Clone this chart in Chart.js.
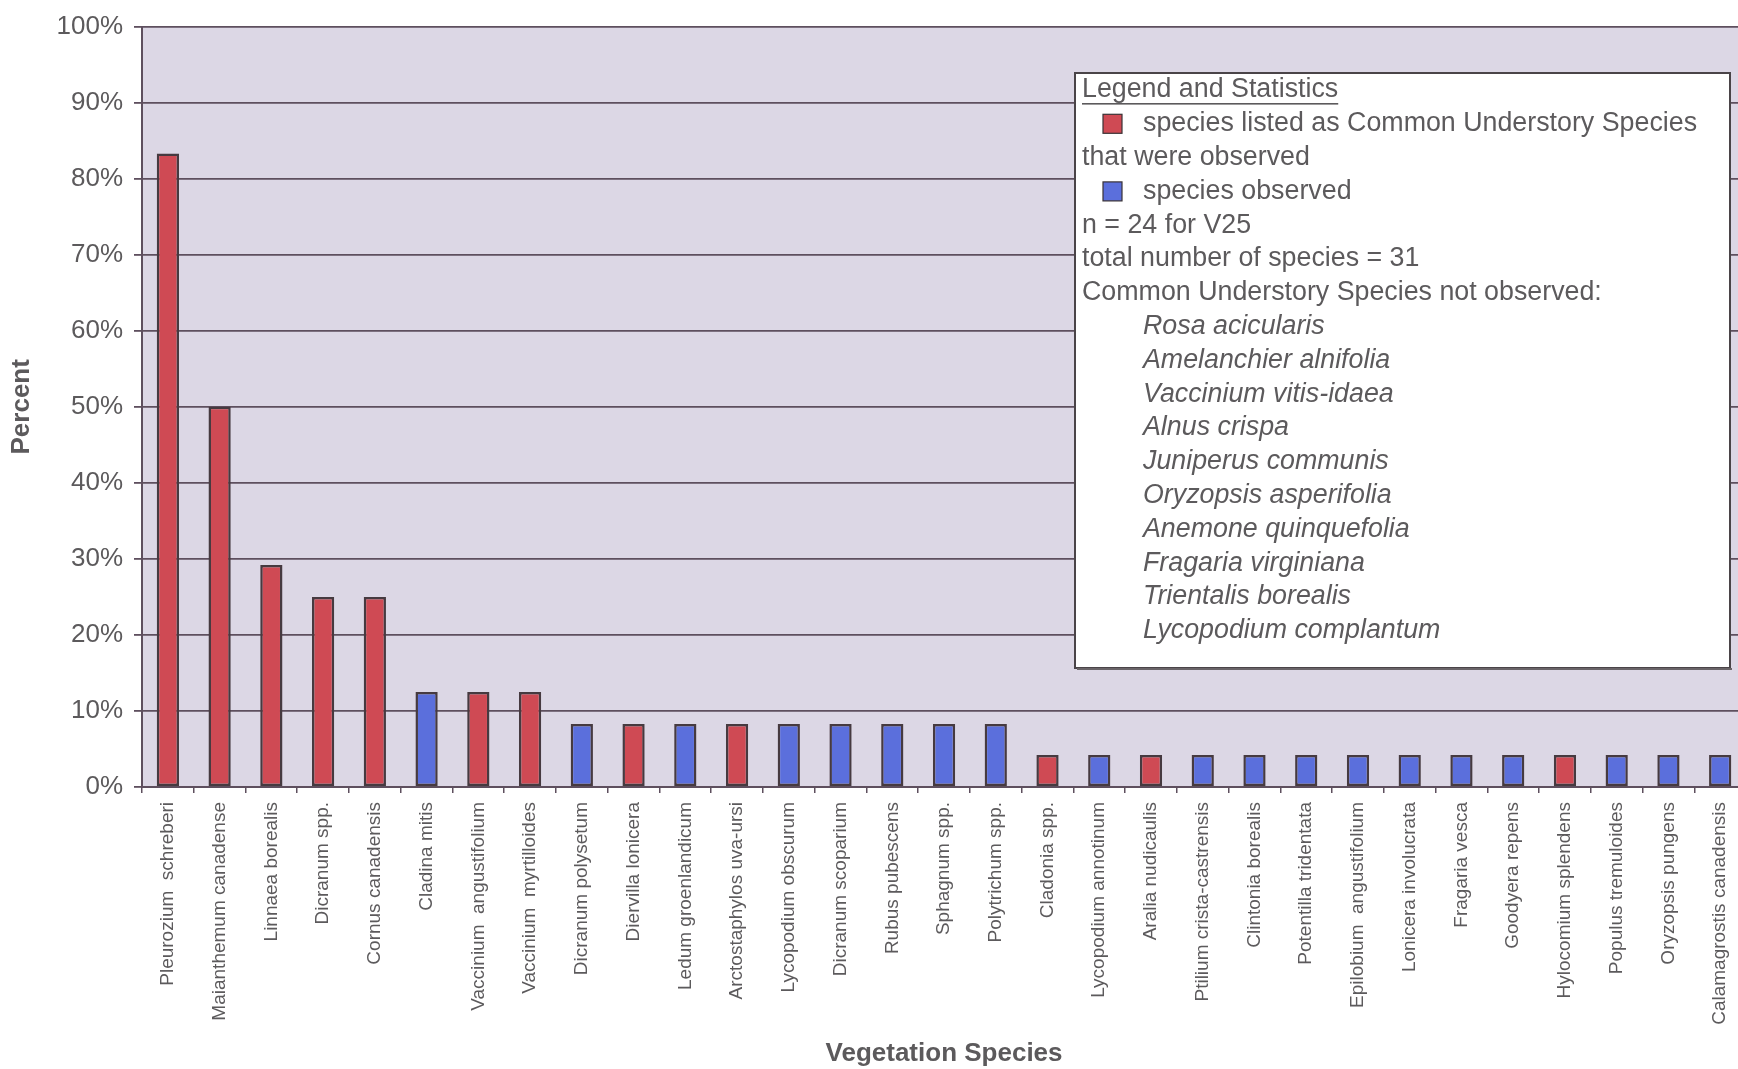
<!DOCTYPE html>
<html>
<head>
<meta charset="utf-8">
<script src="https://cdn.jsdelivr.net/npm/chart.js@4/dist/chart.umd.min.js"></script>
<style>
  html, body { margin: 0; padding: 0; overflow: hidden; background: #ffffff; }
  #wrap { width: 1752px; height: 1069px; position: relative; }
</style>
</head>
<body>
<div id="wrap"><canvas id="c" width="1752" height="1069"></canvas></div>
<script>
// ---- data ----
const species = [
  'Pleurozium  schreberi', 'Maianthemum canadense', 'Linnaea borealis', 'Dicranum spp.',
  'Cornus canadensis', 'Cladina mitis', 'Vaccinium  angustifolium', 'Vaccinium  myrtilloides',
  'Dicranum polysetum', 'Diervilla lonicera', 'Ledum groenlandicum', 'Arctostaphylos uva-ursi',
  'Lycopodium obscurum', 'Dicranum scoparium', 'Rubus pubescens', 'Sphagnum spp.',
  'Polytrichum spp.', 'Cladonia spp.', 'Lycopodium annotinum', 'Aralia nudicaulis',
  'Ptilium crista-castrensis', 'Clintonia borealis', 'Potentilla tridentata', 'Epilobium  angustifolium',
  'Lonicera involucrata', 'Fragaria vesca', 'Goodyera repens', 'Hylocomium splendens',
  'Populus tremuloides', 'Oryzopsis pungens', 'Calamagrostis canadensis'
];
const percent = [
  83.3, 50.0, 29.2, 25.0, 25.0, 12.5, 12.5, 12.5,
  8.3, 8.3, 8.3, 8.3, 8.3, 8.3, 8.3, 8.3, 8.3,
  4.2, 4.2, 4.2, 4.2, 4.2, 4.2, 4.2, 4.2, 4.2, 4.2, 4.2, 4.2, 4.2, 4.2
];
// 'C' = listed as Common Understory Species and observed, 'O' = species observed
const speciesType = [
  'C','C','C','C','C','O','C','C',
  'O','C','O','C','O','O','O','O','O',
  'C','O','C','O','O','O','O','O','O','O','C','O','O','O'
];
const yTicks = [0, 10, 20, 30, 40, 50, 60, 70, 80, 90, 100];
const legendTitle = 'Legend and Statistics';
const legendRedText = 'species listed as Common Understory Species';
const legendRedText2 = 'that were observed';
const legendBlueText = 'species observed';
const statsLines = ['n = 24 for V25', 'total number of species = 31', 'Common Understory Species not observed:'];
const notObserved = [
  'Rosa acicularis', 'Amelanchier alnifolia', 'Vaccinium vitis-idaea', 'Alnus crispa',
  'Juniperus communis', 'Oryzopsis asperifolia', 'Anemone quinquefolia', 'Fragaria virginiana',
  'Trientalis borealis', 'Lycopodium complantum'
];

// ---- styles ----
const RED = '#cf4a54';
const BLUE = '#5b6fdc';
const TEXT = '#5c5a5c';
const GRID = '#5e4f5e';
const PLOTBG = '#dcd7e5';
const FONT = "'Liberation Sans', Arial, sans-serif";

const bgPlugin = {
  id: 'bg',
  beforeDraw(chart) {
    const {ctx, chartArea: a} = chart;
    ctx.save();
    ctx.fillStyle = '#ffffff';
    ctx.fillRect(0, 0, chart.width, chart.height);
    ctx.fillStyle = PLOTBG;
    ctx.fillRect(a.left, a.top, a.right - a.left, a.bottom - a.top);
    ctx.restore();
  }
};

const legendPlugin = {
  id: 'statsLegend',
  afterDraw(chart) {
    const ctx = chart.ctx;
    const box = {l: 1075, t: 73, r: 1730, b: 668};
    ctx.save();
    ctx.fillStyle = '#ffffff';
    ctx.fillRect(box.l, box.t, box.r - box.l, box.b - box.t);
    ctx.strokeStyle = '#4a4448';
    ctx.lineWidth = 2;
    ctx.strokeRect(box.l, box.t, box.r - box.l, box.b - box.t);
    ctx.fillStyle = '#6a6468';
    ctx.fillRect(box.l + 2, box.b, box.r - box.l, 2);

    const x0 = 1082, x1 = 1143, y0 = 90, dy = 33.8;
    ctx.textBaseline = 'middle';
    ctx.textAlign = 'left';
    ctx.fillStyle = TEXT;
    ctx.font = '26.8px ' + FONT;
    let line = 0;
    // title, underlined
    ctx.fillText(legendTitle, x0, y0);
    const tw = ctx.measureText(legendTitle).width;
    ctx.fillRect(x0, y0 + 13, tw, 1.6);
    line++;
    const sq = 19;
    const drawSwatch = (y, color) => {
      ctx.fillStyle = color;
      ctx.fillRect(1103, y - sq / 2, sq, sq);
      ctx.strokeStyle = '#3a3236';
      ctx.lineWidth = 1.2;
      ctx.strokeRect(1103, y - sq / 2, sq, sq);
      ctx.fillStyle = TEXT;
    };
    let y = y0 + dy * line;
    drawSwatch(y, RED);
    ctx.fillText(legendRedText, x1, y);
    line++;
    ctx.fillText(legendRedText2, x0, y0 + dy * line);
    line++;
    y = y0 + dy * line;
    drawSwatch(y, BLUE);
    ctx.fillText(legendBlueText, x1, y);
    line++;
    statsLines.forEach(s => { ctx.fillText(s, x0, y0 + dy * line); line++; });
    ctx.font = 'italic 26.8px ' + FONT;
    notObserved.forEach(s => { ctx.fillText(s, x1, y0 + dy * line); line++; });
    ctx.restore();
  }
};

new Chart(document.getElementById('c'), {
  type: 'bar',
  data: {
    labels: species,
    datasets: [{
      data: percent,
      backgroundColor: speciesType.map(t => t === 'C' ? RED : BLUE),
      borderColor: '#463a40',
      borderWidth: 2.5,
      borderSkipped: false,
      barPercentage: 0.43,
      categoryPercentage: 1.0
    }]
  },
  options: {
    responsive: false,
    animation: false,
    devicePixelRatio: 1,
    layout: { padding: { top: 24, right: 1, bottom: 0, left: 0 } },
    plugins: { legend: { display: false }, tooltip: { enabled: false } },
    scales: {
      x: {
        grid: { drawOnChartArea: false, drawTicks: true, tickLength: 6, color: GRID, lineWidth: 1.5 },
        border: { display: true, color: GRID, width: 2 },
        ticks: {
          autoSkip: false, minRotation: 90, maxRotation: 90, padding: 9,
          color: TEXT, font: { family: FONT, size: 19 }
        },
        title: {
          display: true, text: 'Vegetation Species', color: TEXT,
          font: { family: FONT, size: 26, weight: 'bold', lineHeight: 1.2 },
          padding: { top: 0, bottom: 0 }
        },
        afterFit(s) { s.height = 282; }
      },
      y: {
        min: 0, max: 100,
        afterBuildTicks(s) { s.ticks = yTicks.map(v => ({ value: v })); },
        grid: { color: GRID, lineWidth: 1.8, tickLength: 8, drawTicks: true },
        border: { display: true, color: GRID, width: 2 },
        ticks: {
          padding: 11, color: TEXT, font: { family: FONT, size: 26 },
          callback: v => v + '%'
        },
        title: {
          display: true, text: 'Percent', color: TEXT,
          font: { family: FONT, size: 26, weight: 'bold', lineHeight: 1.2 },
          padding: { top: 6, bottom: 0 }
        },
        afterFit(s) { s.width = 142; }
      }
    }
  },
  plugins: [bgPlugin, legendPlugin]
});
</script>
</body>
</html>
